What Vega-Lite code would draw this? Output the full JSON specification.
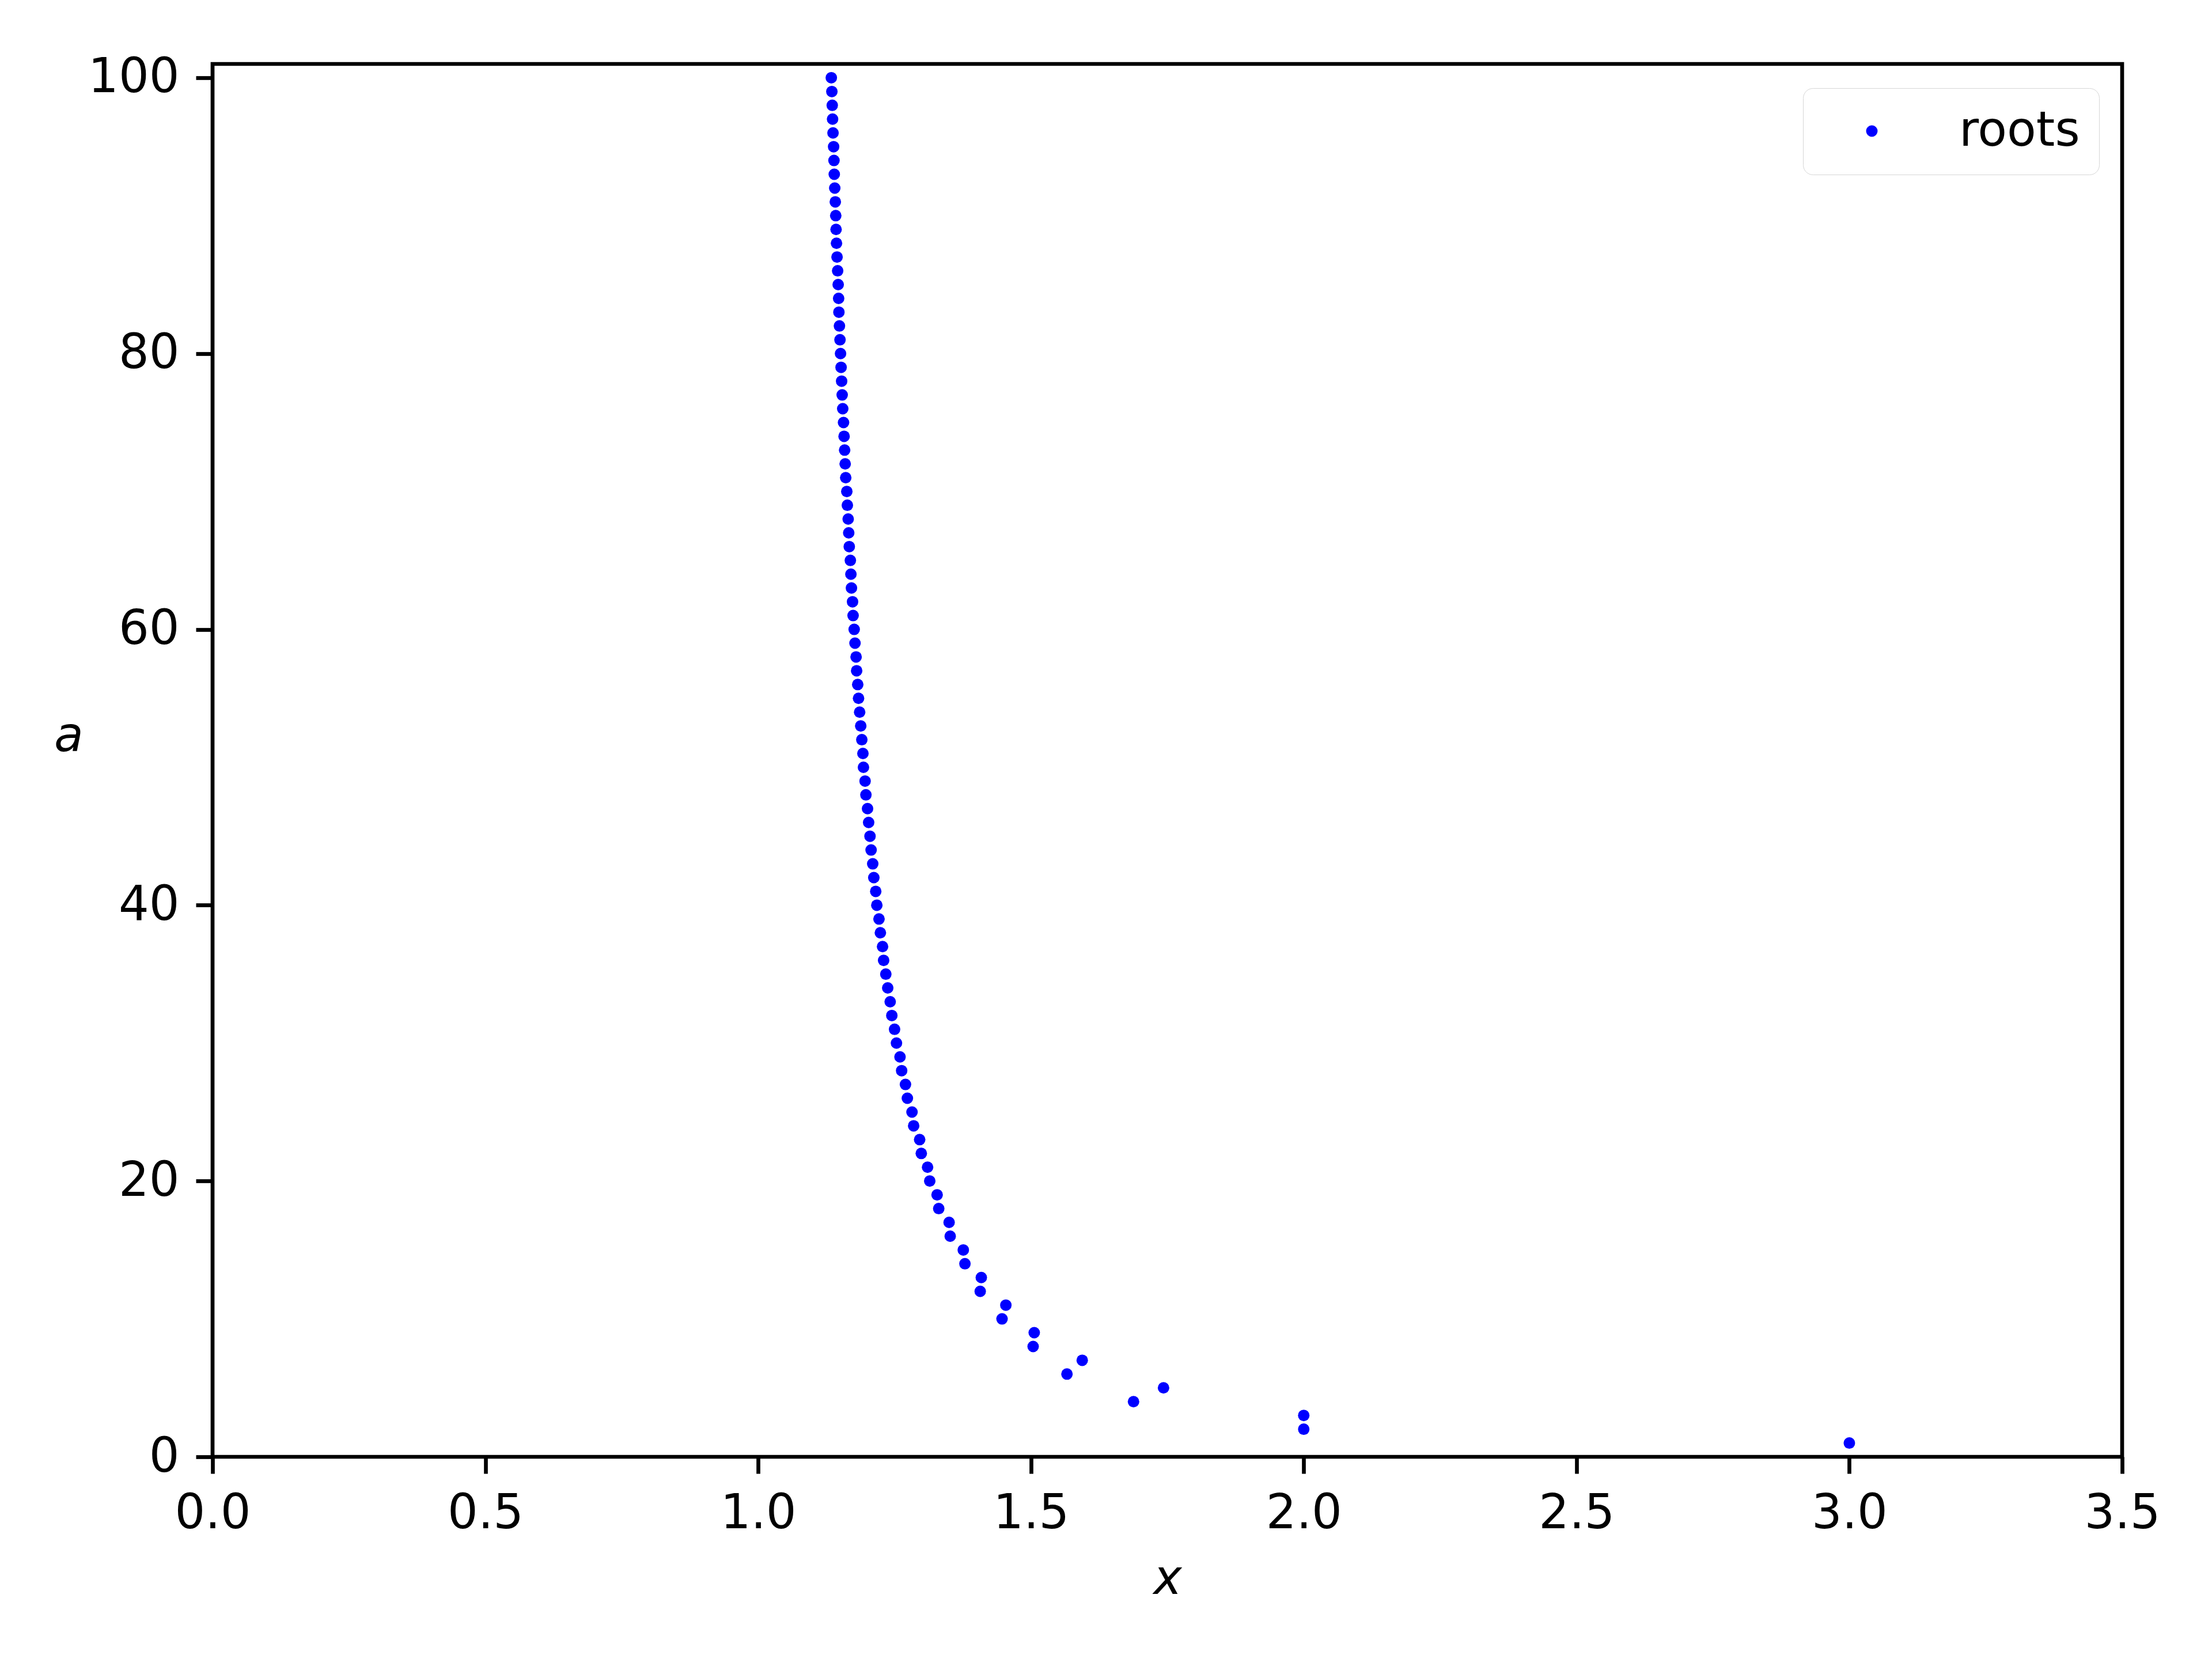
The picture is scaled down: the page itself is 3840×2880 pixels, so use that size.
{
  "$schema": "https://vega.github.io/schema/vega-lite/v6.json",
  "width": 3315,
  "height": 2418,
  "autosize": {"type": "none"},
  "padding": {"left": 369, "top": 111, "right": 156, "bottom": 351},
  "background": "white",
  "config": {
    "view": {"stroke": "black", "strokeWidth": 6.7},
    "font": "DejaVu Sans"
  },
  "data": {
    "values": [
      {"a": 1, "x": 3.0, "series": "roots"},
      {"a": 2, "x": 2.0, "series": "roots"},
      {"a": 3, "x": 2.0, "series": "roots"},
      {"a": 4, "x": 1.688, "series": "roots"},
      {"a": 5, "x": 1.743, "series": "roots"},
      {"a": 6, "x": 1.566, "series": "roots"},
      {"a": 7, "x": 1.594, "series": "roots"},
      {"a": 8, "x": 1.504, "series": "roots"},
      {"a": 9, "x": 1.506, "series": "roots"},
      {"a": 10, "x": 1.447, "series": "roots"},
      {"a": 11, "x": 1.454, "series": "roots"},
      {"a": 12, "x": 1.407, "series": "roots"},
      {"a": 13, "x": 1.409, "series": "roots"},
      {"a": 14, "x": 1.379, "series": "roots"},
      {"a": 15, "x": 1.376, "series": "roots"},
      {"a": 16, "x": 1.352, "series": "roots"},
      {"a": 17, "x": 1.35, "series": "roots"},
      {"a": 18, "x": 1.331, "series": "roots"},
      {"a": 19, "x": 1.328, "series": "roots"},
      {"a": 20, "x": 1.3145, "series": "roots"},
      {"a": 21, "x": 1.3105, "series": "roots"},
      {"a": 22, "x": 1.299, "series": "roots"},
      {"a": 23, "x": 1.296, "series": "roots"},
      {"a": 24, "x": 1.285, "series": "roots"},
      {"a": 25, "x": 1.282, "series": "roots"},
      {"a": 26, "x": 1.2735, "series": "roots"},
      {"a": 27, "x": 1.27, "series": "roots"},
      {"a": 28, "x": 1.263, "series": "roots"},
      {"a": 29, "x": 1.26, "series": "roots"},
      {"a": 30, "x": 1.2535, "series": "roots"},
      {"a": 31, "x": 1.25, "series": "roots"},
      {"a": 32, "x": 1.245, "series": "roots"},
      {"a": 33, "x": 1.242, "series": "roots"},
      {"a": 34, "x": 1.2375, "series": "roots"},
      {"a": 35, "x": 1.234, "series": "roots"},
      {"a": 36, "x": 1.23, "series": "roots"},
      {"a": 37, "x": 1.228, "series": "roots"},
      {"a": 38, "x": 1.224, "series": "roots"},
      {"a": 39, "x": 1.2215, "series": "roots"},
      {"a": 40, "x": 1.2175, "series": "roots"},
      {"a": 41, "x": 1.2155, "series": "roots"},
      {"a": 42, "x": 1.212, "series": "roots"},
      {"a": 43, "x": 1.21, "series": "roots"},
      {"a": 44, "x": 1.207, "series": "roots"},
      {"a": 45, "x": 1.205, "series": "roots"},
      {"a": 46, "x": 1.2025, "series": "roots"},
      {"a": 47, "x": 1.2005, "series": "roots"},
      {"a": 48, "x": 1.1975, "series": "roots"},
      {"a": 49, "x": 1.196, "series": "roots"},
      {"a": 50, "x": 1.193, "series": "roots"},
      {"a": 51, "x": 1.192, "series": "roots"},
      {"a": 52, "x": 1.19, "series": "roots"},
      {"a": 53, "x": 1.188, "series": "roots"},
      {"a": 54, "x": 1.186, "series": "roots"},
      {"a": 55, "x": 1.184, "series": "roots"},
      {"a": 56, "x": 1.1825, "series": "roots"},
      {"a": 57, "x": 1.1805, "series": "roots"},
      {"a": 58, "x": 1.1795, "series": "roots"},
      {"a": 59, "x": 1.1775, "series": "roots"},
      {"a": 60, "x": 1.176, "series": "roots"},
      {"a": 61, "x": 1.174, "series": "roots"},
      {"a": 62, "x": 1.173, "series": "roots"},
      {"a": 63, "x": 1.171, "series": "roots"},
      {"a": 64, "x": 1.17, "series": "roots"},
      {"a": 65, "x": 1.169, "series": "roots"},
      {"a": 66, "x": 1.167, "series": "roots"},
      {"a": 67, "x": 1.166, "series": "roots"},
      {"a": 68, "x": 1.165, "series": "roots"},
      {"a": 69, "x": 1.1635, "series": "roots"},
      {"a": 70, "x": 1.1625, "series": "roots"},
      {"a": 71, "x": 1.1605, "series": "roots"},
      {"a": 72, "x": 1.1595, "series": "roots"},
      {"a": 73, "x": 1.1585, "series": "roots"},
      {"a": 74, "x": 1.1575, "series": "roots"},
      {"a": 75, "x": 1.1565, "series": "roots"},
      {"a": 76, "x": 1.155, "series": "roots"},
      {"a": 77, "x": 1.154, "series": "roots"},
      {"a": 78, "x": 1.153, "series": "roots"},
      {"a": 79, "x": 1.152, "series": "roots"},
      {"a": 80, "x": 1.151, "series": "roots"},
      {"a": 81, "x": 1.15, "series": "roots"},
      {"a": 82, "x": 1.149, "series": "roots"},
      {"a": 83, "x": 1.148, "series": "roots"},
      {"a": 84, "x": 1.1475, "series": "roots"},
      {"a": 85, "x": 1.1467, "series": "roots"},
      {"a": 86, "x": 1.1457, "series": "roots"},
      {"a": 87, "x": 1.1446, "series": "roots"},
      {"a": 88, "x": 1.1436, "series": "roots"},
      {"a": 89, "x": 1.1428, "series": "roots"},
      {"a": 90, "x": 1.1422, "series": "roots"},
      {"a": 91, "x": 1.1414, "series": "roots"},
      {"a": 92, "x": 1.1404, "series": "roots"},
      {"a": 93, "x": 1.1395, "series": "roots"},
      {"a": 94, "x": 1.139, "series": "roots"},
      {"a": 95, "x": 1.1383, "series": "roots"},
      {"a": 96, "x": 1.1372, "series": "roots"},
      {"a": 97, "x": 1.1364, "series": "roots"},
      {"a": 98, "x": 1.1358, "series": "roots"},
      {"a": 99, "x": 1.1351, "series": "roots"},
      {"a": 100, "x": 1.1341, "series": "roots"}
    ]
  },
  "mark": {"type": "point", "filled": true, "shape": "circle", "size": 400, "opacity": 1, "strokeWidth": 0},
  "encoding": {
    "x": {
      "field": "x",
      "type": "quantitative",
      "scale": {"domain": [0, 3.5], "nice": false, "zero": false},
      "axis": {
        "title": "x",
        "values": [0, 0.5, 1, 1.5, 2, 2.5, 3, 3.5],
        "format": ".1f",
        "grid": false,
        "domain": false,
        "tickColor": "black",
        "tickSize": 29,
        "tickWidth": 6.7,
        "labelFont": "DejaVu Sans",
        "labelFontSize": 83,
        "labelColor": "black",
        "labelPadding": 28,
        "labelFlush": false,
        "labelOverlap": false,
        "titleFont": "DejaVu Sans",
        "titleFontStyle": "italic",
        "titleFontWeight": "normal",
        "titleFontSize": 83,
        "titleColor": "black",
        "titleX": 1657.5,
        "titleY": 237,
        "titleAlign": "center",
        "titleBaseline": "alphabetic"
      }
    },
    "y": {
      "field": "a",
      "type": "quantitative",
      "scale": {"domain": [0, 101], "nice": false, "zero": false},
      "axis": {
        "title": "a",
        "values": [0, 20, 40, 60, 80, 100],
        "grid": false,
        "domain": false,
        "tickColor": "black",
        "tickSize": 29,
        "tickWidth": 6.7,
        "labelFont": "DejaVu Sans",
        "labelFontSize": 83,
        "labelColor": "black",
        "labelPadding": 29,
        "labelFlush": false,
        "labelOverlap": false,
        "titleFont": "DejaVu Sans",
        "titleFontStyle": "italic",
        "titleFontWeight": "normal",
        "titleFontSize": 83,
        "titleColor": "black",
        "titleAngle": 0,
        "titleX": -250,
        "titleY": 1192,
        "titleAlign": "center",
        "titleBaseline": "alphabetic"
      }
    },
    "color": {
      "field": "series",
      "type": "nominal",
      "scale": {"domain": ["roots"], "range": ["#0000ff"]},
      "legend": {
        "title": null,
        "orient": "none",
        "legendX": 2761,
        "legendY": 42,
        "padding": 33,
        "symbolOffset": 45,
        "labelOffset": 110,
        "labelLimit": 1000,
        "symbolSize": 400,
        "symbolType": "circle",
        "symbolStrokeWidth": 0,
        "labelFont": "DejaVu Sans",
        "labelFontSize": 83,
        "labelColor": "black",
        "strokeColor": "#d6d6d6",
        "fillColor": "white",
        "cornerRadius": 17,
        "encode": {"legend": {"update": {"strokeWidth": {"value": 7}}}}
      }
    }
  }
}
